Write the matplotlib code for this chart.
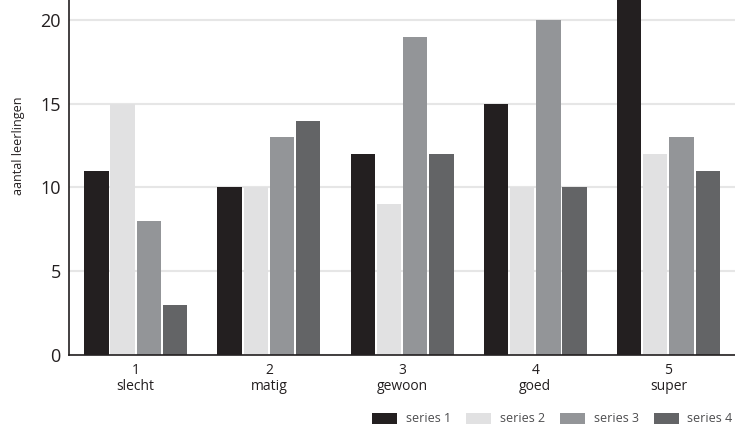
import matplotlib.pyplot as plt
import numpy as np

plt.rcParams['font.family'] = ['Open Sans', 'DejaVu Sans']

categories = ['1\nslecht', '2\nmatig', '3\ngewoon', '4\ngoed', '5\nsuper']
series_names = ['series 1', 'series 2', 'series 3', 'series 4']
series_1 = [11, 10, 12, 15, 22]
series_2 = [15, 10, 9, 10, 12]
series_3 = [8, 13, 19, 20, 13]
series_4 = [3, 14, 12, 10, 11]
colors = ['#231f20', '#e1e1e2', '#939598', '#636466']

fig = plt.figure(figsize=(7.35, 4.28), dpi=100)
ax = fig.add_axes([0.094, 0.171, 0.906, 0.829])

x = np.arange(1, len(categories) + 1)
step = 0.197
width = 0.183
for i, (vals, name, c) in enumerate(zip([series_1, series_2, series_3, series_4], series_names, colors)):
	ax.bar(x + (i - 1.5) * step, vals, width, color=c, label=name, zorder=2)

ax.set_xlim(0.5, 5.5)
ax.set_ylim(0, 21.2)
ax.set_yticks([0, 5, 10, 15, 20])
ax.set_xticks(x)
ax.set_xticklabels(categories, fontsize=10, linespacing=1.1)
ax.tick_params(axis='y', length=0, labelsize=13, pad=6, colors='#231f20')
ax.tick_params(axis='x', length=0, pad=6, colors='#231f20')
ax.grid(axis='y', color='#e6e6e6', linewidth=1.5, zorder=0)
for s in ['top', 'right']:
	ax.spines[s].set_visible(False)
for s in ['left', 'bottom']:
	ax.spines[s].set_color('#231f20')
	ax.spines[s].set_linewidth(1.2)

ax.set_ylabel('aantal leerlingen', fontsize=9, color='#231f20')
ax.yaxis.set_label_coords(-0.066, 0.59)

leg = fig.legend(loc='lower right', bbox_to_anchor=(1.0, 0.0), ncol=4, frameon=False,
	fontsize=9, handlelength=2.0, handleheight=1.0, columnspacing=1.2, handletextpad=0.7,
	borderaxespad=0, borderpad=0.2)
for t in leg.get_texts():
	t.set_color('#4d4d4f')

fig.savefig('out.png', dpi=100)
